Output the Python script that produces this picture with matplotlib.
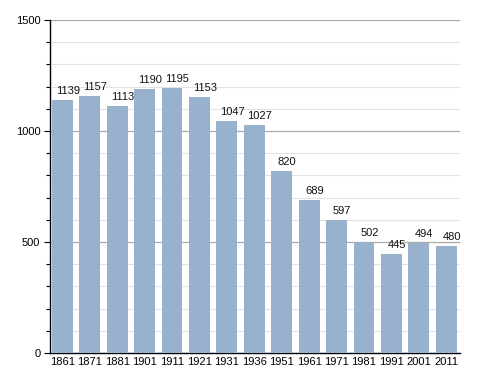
import matplotlib.pyplot as plt
from matplotlib.ticker import MultipleLocator

plt.rcParams["font.family"] = ["Liberation Sans", "DejaVu Sans"]

# data
years = ["1861", "1871", "1881", "1901", "1911", "1921", "1931", "1936",
         "1951", "1961", "1971", "1981", "1991", "2001", "2011"]
population = [1139, 1157, 1113, 1190, 1195, 1153, 1047, 1027,
              820, 689, 597, 502, 445, 494, 480]

BAR_COLOR = "#98b2cd"

fig = plt.figure(figsize=(4.88, 3.73), dpi=100)
ax = fig.add_axes([50 / 488, 20 / 373, 410 / 488, 333 / 373])

x = range(len(years))
ax.bar(x, population, width=0.76, color=BAR_COLOR, zorder=3)

# value labels sit a little right of bar centre, as in the original
for i, v in enumerate(population):
    ax.text(i + 0.2, v + 18, str(v), ha="center", va="bottom", fontsize=8,
            color="#111111", zorder=4)

ax.set_xlim(-0.45, len(years) - 0.5)
ax.set_ylim(0, 1500)
ax.set_xticks(list(x))
ax.set_xticklabels(years, fontsize=8)
ax.set_yticks([0, 500, 1000, 1500])
ax.set_yticklabels(["0", "500", "1000", "1500"], fontsize=8)
ax.yaxis.set_minor_locator(MultipleLocator(100))

ax.grid(axis="y", which="major", color="#aaaaaa", linewidth=0.9, zorder=0)
ax.grid(axis="y", which="minor", color="#e2e2e2", linewidth=0.8, zorder=0)

ax.tick_params(axis="x", length=0, pad=3)
ax.tick_params(axis="y", which="major", length=4, width=0.8, pad=3)
ax.tick_params(axis="y", which="minor", length=3, width=0.8)

for side in ["top", "right"]:
    ax.spines[side].set_visible(False)
ax.spines["left"].set_linewidth(1.0)
ax.spines["bottom"].set_linewidth(1.0)

fig.savefig("out.png", dpi=100)
